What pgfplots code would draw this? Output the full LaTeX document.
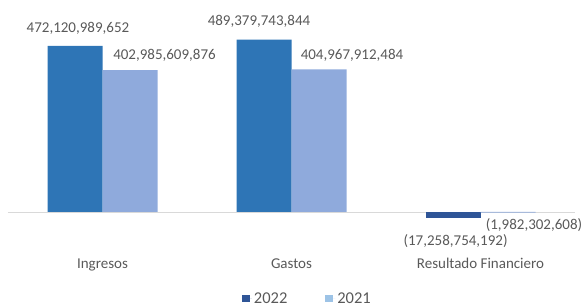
\documentclass[border=0pt]{standalone}
\usepackage{fontspec}
\setmainfont{Carlito}
\usepackage{pgfplots}
\pgfplotsset{compat=1.18}
\definecolor{c22}{HTML}{2E75B6}
\definecolor{c22b}{HTML}{2F5597}
\definecolor{c21}{HTML}{8FAADC}
\definecolor{c21l}{HTML}{9DC3E6}
\definecolor{txt}{HTML}{595959}
\definecolor{zl}{HTML}{D9D9D9}
\tikzset{lbl/.style={font=\fontsize{15}{18}\selectfont, text=txt, anchor=base, inner sep=0pt}}
\begin{document}
\begin{tikzpicture}
\begin{axis}[
  scale only axis, width=567pt, height=235.84pt,
  xmin=-0.5, xmax=2.5, ymin=-80e9, ymax=590e9,
  axis line style={draw=none}, ytick=\empty,
  xtick={0,1,2}, xticklabels={Ingresos,Gastos,Resultado Financiero},
  major tick length=0pt,
  xticklabel style={anchor=base, yshift=-28.3pt, font=\fontsize{15}{18}\selectfont, text=txt},
  clip=false,
  legend columns=2,
  legend style={at={(0.528,-0.248)}, anchor=center, draw=none, fill=none,
    font=\fontsize{16.5}{19}\selectfont, text=txt, inner sep=0pt,
    /tikz/every even column/.append style={column sep=36pt}},
  legend image code/.code={\fill[#1] (0pt,-3.8pt) rectangle (7.6pt,3.8pt);
    \path (0pt,0pt) -- (10pt,0pt);},
]
\draw[zl, line width=0.9pt] (axis cs:-0.5,0) -- (axis cs:2.5,0);
\addplot[ybar, bar width=55pt, bar shift=-27.5pt, fill=c22, draw=none, forget plot]
  coordinates {(0,472120989652) (1,489379743844)};
\addplot[ybar, bar width=55pt, bar shift=-27.5pt, fill=c22b, draw=none, forget plot]
  coordinates {(2,-17258754192)};
\addplot[ybar, bar width=55pt, bar shift=27.5pt, fill=c21, draw=none, forget plot]
  coordinates {(0,402985609876) (1,404967912484) (2,-1982302608)};
\addlegendimage{fill=c22b, draw=none}
\addlegendentry{2022}
\addlegendimage{fill=c21l, draw=none}
\addlegendentry{2021}
\node[lbl] at (axis cs:-0.13,509.4e9) {472,120,989,652};
\node[lbl] at (axis cs:0.328,433.8e9) {402,985,609,876};
\node[lbl] at (axis cs:0.828,529.8e9) {489,379,743,844};
\node[lbl] at (axis cs:1.320,433.8e9) {404,967,912,484};
\node[lbl] at (axis cs:2.283,-51.1e9) {(1,982,302,608)};
\node[lbl] at (axis cs:1.868,-95.2e9) {(17,258,754,192)};
\end{axis}
\pgfresetboundingbox
\path[use as bounding box] (-8pt,-66.84pt) rectangle (576pt,240.14pt);
\end{tikzpicture}
\end{document}
